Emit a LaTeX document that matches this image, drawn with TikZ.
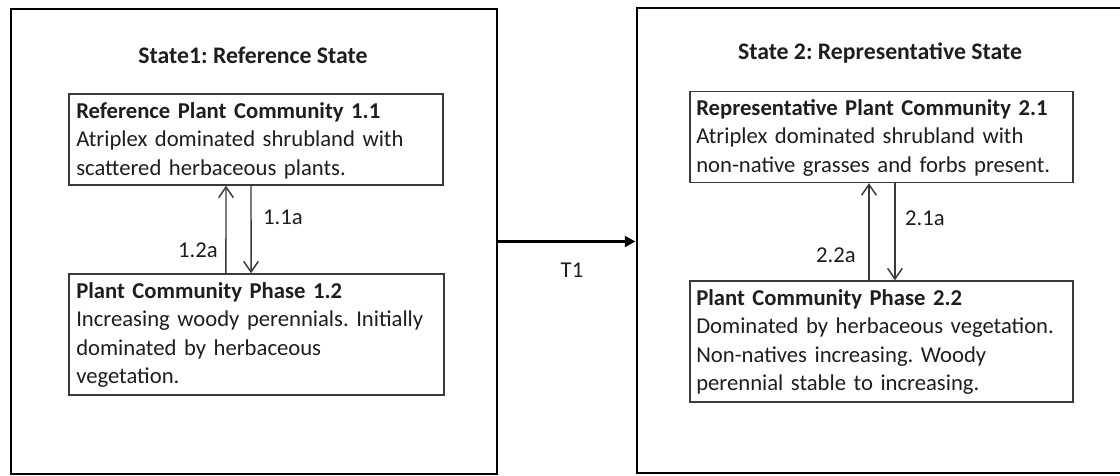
\documentclass[tikz,border=0pt]{standalone}
\usepackage{fontspec}
\setmainfont{Carlito}
\usetikzlibrary{arrows.meta}
\definecolor{ink}{HTML}{1E1E1E}
\definecolor{edge}{HTML}{3A3A3A}
\frenchspacing
\begin{document}
\begin{tikzpicture}[x=0.75pt,y=-0.75pt,
  statebox/.style={draw=black,line width=2.2pt,inner sep=0pt},
  phasebox/.style={draw=edge,line width=1.1pt,inner sep=0pt},
  phasetext/.style={anchor=base west,inner sep=0pt,text width=290pt,align=left,text=ink,
    font=\fontsize{17}{21.4}\selectfont},
  titletext/.style={text=ink,inner sep=0pt,font=\fontsize{17.8}{21}\selectfont\bfseries},
  lbl/.style={text=ink,inner sep=0pt,font=\fontsize{17}{20}\selectfont},
  varrow/.style={draw=edge,line width=1.1pt,-{Straight Barb[length=8pt,width=11pt,line width=1.1pt]}},
  tarrow/.style={draw=black,line width=2pt,-{Triangle[length=8pt,width=8pt]}}
]
\useasboundingbox (0,0) rectangle (1120,475);
\clip (0,0) rectangle (1120,475);
\fill[white] (0,0) rectangle (1120,475);

% state boxes
\node[statebox,minimum width=364.5pt,minimum height=348.75pt] (s1) at (254,241.5) {};
\node[statebox,minimum width=373.5pt,minimum height=348.75pt] (s2) at (886,240.5) {};

\node[titletext] (s1t) at (253,55) {State1: Reference State};
\node[titletext] (s2t) at (880,53) {State 2: Representative State};

% phase boxes
\node[phasebox,minimum width=280.5pt,minimum height=68.25pt] (b11) at (256,139.5) {};
\node[phasebox,minimum width=281.25pt,minimum height=90.75pt] (b12) at (256.5,334.5) {};
\node[phasebox,minimum width=287.25pt,minimum height=68.25pt] (b21) at (881.5,137) {};
\node[phasebox,minimum width=287.25pt,minimum height=90.75pt] (b22) at (881.5,341.5) {};

\node[phasetext] (t11) at (76,118) {\textbf{Reference Plant Community 1.1}\\Atriplex dominated shrubland with\\scattered herbaceous plants.};
\node[phasetext] (t12) at (76,298) {\textbf{Plant Community Phase 1.2}\\Increasing woody perennials. Initially\\dominated by herbaceous\\vegetation.};
\node[phasetext] (t21) at (696,115) {\textbf{Representative Plant Community 2.1}\\Atriplex dominated shrubland with\\non-native grasses and forbs present.};
\node[phasetext] (t22) at (696,305) {\textbf{Plant Community Phase 2.2}\\Dominated by herbaceous vegetation.\\Non-natives increasing. Woody\\perennial stable to increasing.};

% transitions within states
\draw[varrow] ([xshift=-22.9pt]b12.north) -- ([xshift=-22.5pt]b11.south);
\draw[varrow] ([xshift=-3.75pt]b11.south) -- ([xshift=-4.1pt]b12.north);
\draw[varrow] ([xshift=-9.4pt]b22.north) -- ([xshift=-9.4pt]b21.south);
\draw[varrow] ([xshift=10.1pt]b21.south) -- ([xshift=10.1pt]b22.north);

\node[lbl] (l11) at (283,217) {1.1a};
\node[lbl] (l12) at (198,250) {1.2a};
\node[lbl] (l21) at (925,218) {2.1a};
\node[lbl] (l22) at (836,255) {2.2a};

% transition between states
\draw[tarrow] (s1.east) -- (s1.east -| s2.west);
\node[lbl] (lt1) at (572,270) {T1};
\end{tikzpicture}
\end{document}
